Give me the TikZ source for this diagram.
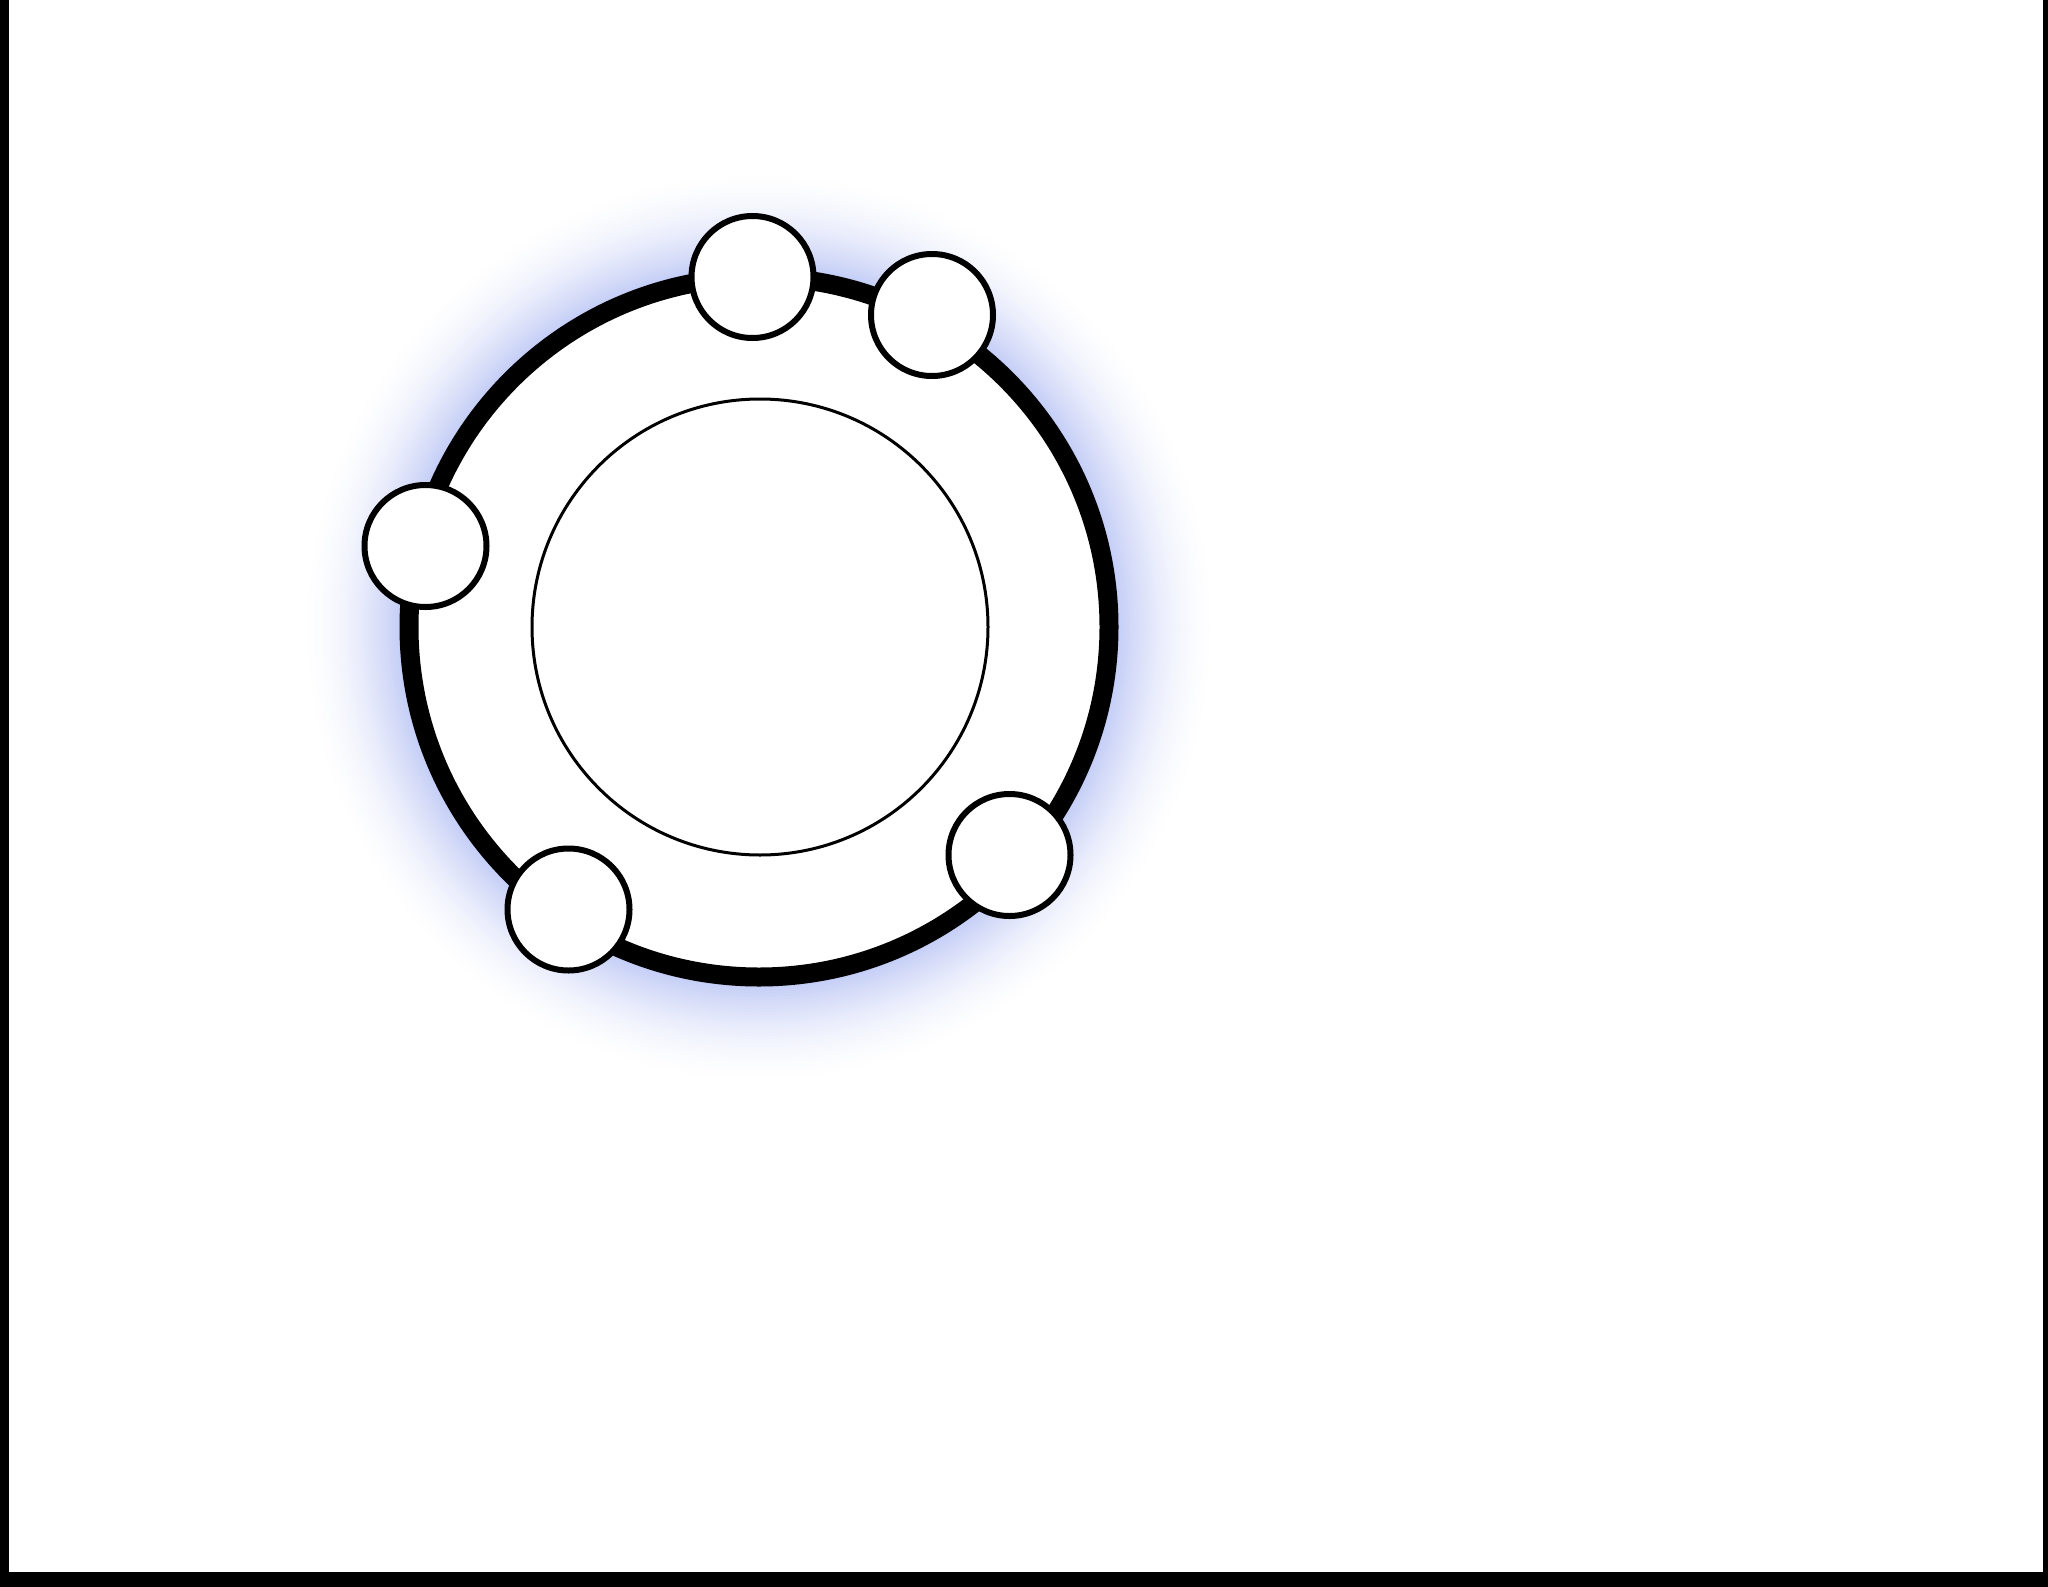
\documentclass[tikz,border=0pt]{standalone}
\definecolor{glowc}{RGB}{196,205,246}
\tikzset{
  ring/.style={line width=19pt, draw=black},
  innerring/.style={circle, draw=black, line width=3pt, inner sep=0pt, minimum size=456pt},
  bead/.style={circle, draw=black, fill=white, line width=6pt, inner sep=0pt, minimum size=122pt},
  framebar/.style={fill=black},
}
\begin{document}
\begin{tikzpicture}[x=1pt,y=-1pt]
\useasboundingbox (0,0) rectangle (2048,1587);
\fill[white] (0,0) rectangle (2048,1587);
\coordinate (o) at (759,627);
% blue glow around the ring
\foreach \r in {460,457,...,360} {
  \pgfmathsetmacro\p{100*((460-\r)/100)^1.8}
  \fill[glowc!\p!white] (o) circle[radius=\r];
}
\fill[white] (o) circle[radius=350];
\draw[ring] (o) circle[radius=350];
\node[innerring] (inner) at (760,627) {};
% beads on the ring
\node[bead] (b1) at (752.5,277) {};
\node[bead] (b2) at (932,315) {};
\node[bead] (b3) at (425.5,546) {};
\node[bead] (b4) at (568.5,909.5) {};
\node[bead] (b5) at (1009.5,855) {};
% frame
\fill[framebar] (0,0) rectangle (9,1587);
\fill[framebar] (0,1572) rectangle (2048,1587);
\fill[framebar] (2043,0) rectangle (2048,1587);
\end{tikzpicture}
\end{document}
